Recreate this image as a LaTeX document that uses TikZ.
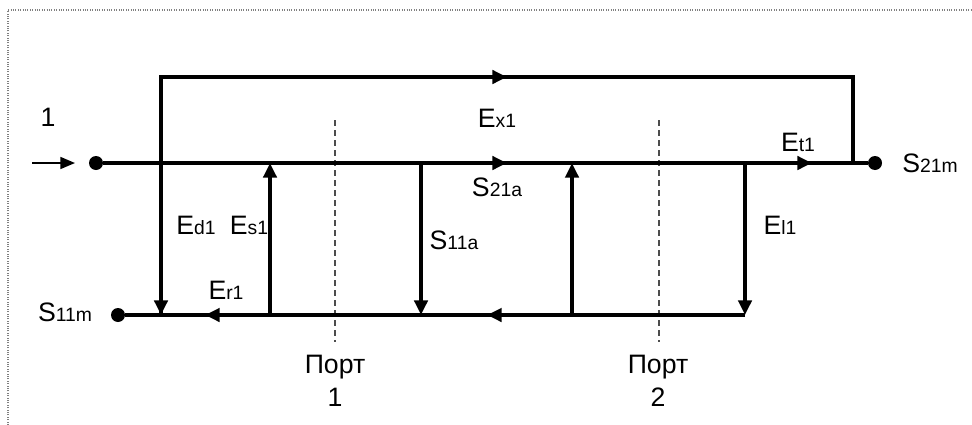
\documentclass[tikz,border=0pt]{standalone}
\usepackage{fontspec}
\setmainfont{Liberation Sans}
\usetikzlibrary{arrows.meta}

\newcommand{\lo}[1]{{\fontsize{14.5}{16}\selectfont #1}}

\tikzset{
  sig/.style={line width=2.6pt},
  sigarr/.style={sig, -{Triangle[length=11pt,width=10pt]}},
  dot/.style={circle, fill, inner sep=0pt, minimum size=10.5pt},
  port/.style={gray!60!black, line width=1.3pt, dash pattern=on 4.5pt off 3pt},
  txt/.style={font=\fontsize{20}{25}\selectfont, inner sep=0pt},
}

\begin{document}
\begin{tikzpicture}[x=0.75pt,y=-0.75pt]
\useasboundingbox (0,0) rectangle (972,425);

% Rahmen
\draw[gray, densely dotted, line width=0.8pt] (8,425) -- (8,10) -- (972,10);

% Klemmen
\node[dot] (in) at (96,163) {};
\node[dot] (s21m) at (875,163) {};
\node[dot] (s11m) at (118,315) {};

% Knoten
\coordinate (t1) at (161,77);
\coordinate (t2) at (853,77);
\coordinate (m2) at (853,163);
\coordinate (b1) at (161,315);
\coordinate (ms) at (270,163);
\coordinate (bs) at (270,315);
\coordinate (ma) at (421,163);
\coordinate (ba) at (421,315);
\coordinate (mb) at (572,163);
\coordinate (bb) at (572,315);
\coordinate (ml) at (745,163);
\coordinate (bl) at (745,315);
\coordinate (tx) at (507,77);
\coordinate (mx) at (507,163);
\coordinate (mt) at (812,163);
\coordinate (br) at (205,315);
\coordinate (bm) at (487,315);
\coordinate (src) at (32,163);
\coordinate (srce) at (75,163);

% Portebenen
\coordinate (p1a) at (335,120);
\coordinate (p1b) at (335,342);
\coordinate (p2a) at (659,120);
\coordinate (p2b) at (659,342);
\draw[port] (p1a) -- (p1b);
\draw[port] (p2a) -- (p2b);

% Zweige
\draw[-{Triangle[length=11pt,width=9pt]}, line width=1.2pt] (src) -- (srce);
\draw[sig] (in) -- (s21m);
\draw[sig] (s11m) -- (bl);
\draw[sig] (b1) -- (t1) -- (t2) -- (m2);
\draw[sigarr] (t1) -- (tx);
\draw[sigarr] (in) -- (mx);
\draw[sigarr] (mx) -- (mt);
\draw[sigarr] (bl) -- (bm);
\draw[sigarr] (bm) -- (br);
\draw[sigarr] (t1) -- (b1);
\draw[sigarr] (bs) -- (ms);
\draw[sigarr] (ma) -- (ba);
\draw[sigarr] (bb) -- (mb);
\draw[sigarr] (ml) -- (bl);

% Beschriftung
\node[txt] (lin) at (48,117) {1};
\node[txt] (lex) at (497,118) {E\lo{x1}};
\node[txt] (let) at (798,142) {E\lo{t1}};
\node[txt] (ls21m) at (930,163) {S\lo{21m}};
\node[txt] (ls21a) at (497,187) {S\lo{21a}};
\node[txt] (led) at (196,225) {E\lo{d1}};
\node[txt] (les) at (249,225) {E\lo{s1}};
\node[txt] (ls11a) at (454,240) {S\lo{11a}};
\node[txt] (lel) at (780,225) {E\lo{l1}};
\node[txt] (ler) at (226,290) {E\lo{r1}};
\node[txt] (ls11m) at (65,312) {S\lo{11m}};
\node[txt, align=center, anchor=north] (lp1) at (335,355) {Порт\\1};
\node[txt, align=center, anchor=north] (lp2) at (658,355) {Порт\\2};

\end{tikzpicture}
\end{document}
